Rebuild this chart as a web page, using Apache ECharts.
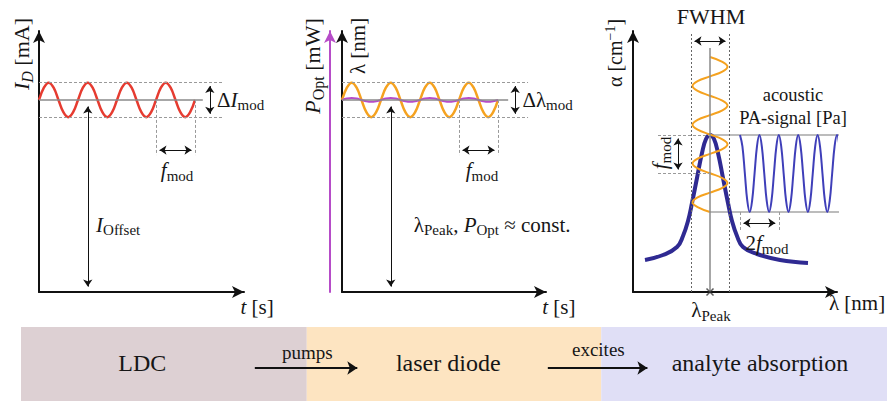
<!DOCTYPE html>
<html><head><meta charset="utf-8">
<script src="https://cdn.jsdelivr.net/npm/echarts/dist/echarts.min.js"></script>
<style>html,body{margin:0;padding:0;background:#fff}#c{width:887px;height:401px}</style>
</head><body><div id="c"></div>
<script>
// ---------------- data ----------------
// panels 1 & 2: time in modulation periods
const modPhase = [0,0.125,0.25,0.375,0.5,0.625,0.75,0.875,1,1.125,1.25,1.375,1.5,1.625,1.75,1.875,2,2.125,2.25,2.375,2.5,2.625,2.75,2.875,3,3.125,3.25,3.375,3.5,3.625,3.75,3.875,4];
// diode current I_D (arb. mA), offset 10, modulation ±0.9
const diodeCurrent = [10,10.64,10.9,10.64,10,9.36,9.1,9.36,10,10.64,10.9,10.64,10,9.36,9.1,9.36,10,10.64,10.9,10.64,10,9.36,9.1,9.36,10,10.64,10.9,10.64,10,9.36,9.1,9.36,10];
// emitted wavelength lambda (arb.)
const laserWavelength = [10,10.64,10.9,10.64,10,9.36,9.1,9.36,10,10.64,10.9,10.64,10,9.36,9.1,9.36,10,10.64,10.9,10.64,10,9.36,9.1,9.36,10,10.64,10.9,10.64,10,9.36,9.1,9.36,10];
// optical power P_Opt (arb.), nearly constant
const laserPower = [10,10.07,10.1,10.07,10,9.93,9.9,9.93,10,10.07,10.1,10.07,10,9.93,9.9,9.93,10,10.07,10.1,10.07,10,9.93,9.9,9.93,10,10.07,10.1,10.07,10,9.93,9.9,9.93,10];
const currentOffset = 10, currentHigh = 10.9, currentLow = 9.1;

// panel 3: absorption line (wavelength arb., alpha arb.)
const absorpLambda = [6,15,22,25,27.5,29.5,32,34.5,36.5,38.5,40.5,42.5,45,47.5,49.5,52,55,62,73.5,87.5];
const absorpAlpha  = [16,18.5,22.5,28,35.5,44.5,57,69.5,76.5,78.5,76.5,69.5,57,44.5,35.5,28,22.5,19,16,14.5];
const lambdaPeak = 38.5, fwhmLow = 29, fwhmHigh = 48;
// modulated laser wavelength drawn along the alpha axis
const probeLambda = [38.5,44.69,47.25,44.69,38.5,32.31,29.75,32.31,38.5,44.69,47.25,44.69,38.5,32.31,29.75,32.31,38.5,44.69,47.25,44.69,38.5,32.31,29.75,32.31,38.5,44.69,47.25,44.69,38.5,32.31,29.75,32.31,38.5];
const probeAlpha  = [117.5,115.08,112.66,110.23,107.81,105.39,102.97,100.55,98.13,95.7,93.28,90.86,88.44,86.02,83.59,81.17,78.75,76.33,73.91,71.48,69.06,66.64,64.22,61.8,59.38,56.95,54.53,52.11,49.69,47.27,44.84,42.42,40];
// acoustic PA signal
const paTime = [53.5,54.71,55.93,57.14,58.35,59.56,60.78,61.99,63.2,64.41,65.63,66.84,68.05,69.26,70.48,71.69,72.9,74.11,75.33,76.54,77.75,78.96,80.18,81.39,82.6,83.81,85.03,86.24,87.45,88.66,89.88,91.09,92.3,93.51,94.73,95.94,97.15,98.36,99.58,100.79,102,103.21,104.43];
const paSignal = [78.5,72.86,59.25,45.64,40,45.64,59.25,72.86,78.5,72.86,59.25,45.64,40,45.64,59.25,72.86,78.5,72.86,59.25,45.64,40,45.64,59.25,72.86,78.5,72.86,59.25,45.64,40,45.64,59.25,72.86,78.5,72.86,59.25,45.64,40,45.64,59.25,72.86,78.5,72.86,59.25];
const paHigh = 78.5, paLow = 40, paLineEnd = 108;

// process chain
const stages = ['LDC','laser diode','analyte absorption'];
const stageBounds = [0,0.99,2.01,3];
const actions = ['pumps','excites'];

// ---------------- styling ----------------
const SERIF = '"Liberation Serif","DejaVu Serif",serif';
const INK = '#161616';
const RED = '#e63b30', ORANGE = '#f5a21f', PURPLE = '#b64cc8', INDIGO = '#2f2a92', BLUE = '#3f3fb9';
const BAND = ['#ddd0d3','#fde4c1','#e0dff6'];
const DASH = {type:[3,2], color:'#9a9a9a', width:1};
const DOT = {type:[2,2], color:'#666', width:1};
const GRAY = {type:'solid', color:'#8a8a8a', width:1.5};
const ARR = {type:'solid', color:'#111', width:1};

const zip = (a,b)=>a.map((v,i)=>[v,b[i]]);
const seg = (p,q,st)=>[{coord:p, lineStyle:st, symbol:'none'},{coord:q, symbol:'none'}];
const dbl = (p,q)=>[{coord:p, lineStyle:ARR, symbol:'arrow'},{coord:q, symbol:'arrow'}];
const ml = data=>({silent:true, animation:false, symbolSize:7, label:{show:false}, emphasis:{disabled:true}, data});

function ax(extra){
  return Object.assign({type:'value', axisLine:{show:true, onZero:false, symbol:['none','arrow'], symbolSize:[9,12], lineStyle:{color:'#111', width:2}},
    axisTick:{show:false}, axisLabel:{show:false}, splitLine:{show:false}}, extra);
}
function hline(y, x0, x1){
  return {type:'line', xAxisIndex:2, yAxisIndex:3, data:[[x0,y],[x1,y]], symbol:'none', silent:true, z:1, clip:false,
          lineStyle:{color:'#7a7a7a', width:1.2}};
}

const chart = echarts.init(document.getElementById('c'), null, {renderer:'svg', width:887, height:401});

const option = {
  animation:false,
  grid:[
    {left:39, top:31, width:205, height:261, outerBoundsMode:'none'},
    {left:342, top:31, width:204, height:261, outerBoundsMode:'none'},
    {left:633, top:31, width:204, height:261, outerBoundsMode:'none'},
    {left:21, top:327, width:866, height:74, outerBoundsMode:'none'}
  ],
  xAxis:[
    ax({gridIndex:0, min:0, max:5.256}),
    ax({gridIndex:1, min:0, max:5.23}),
    ax({gridIndex:2, min:0, max:102}),
    {gridIndex:3, type:'value', min:0, max:3, show:false}
  ],
  yAxis:[
    ax({gridIndex:0, min:0, max:13.59}),
    ax({gridIndex:1, min:0, max:13.59}),
    ax({gridIndex:1, min:0, max:13.59, position:'left', offset:12,
        axisLine:{show:true, onZero:false, symbol:['none','arrow'], symbolSize:[9,12], lineStyle:{color:PURPLE, width:2}}}),
    ax({gridIndex:2, min:0, max:130.5}),
    {gridIndex:3, type:'value', min:0, max:1, show:false}
  ],
  series:[
    // ---- panel 1 ----
    {type:'line', xAxisIndex:0, yAxisIndex:0, data:[], silent:true, z:1, clip:false,
     markLine: ml([
       seg([0,currentHigh],[4.72,currentHigh],DASH),
       seg([0,currentLow],[4.72,currentLow],DASH),
       seg([0,currentOffset],[4.2,currentOffset],GRAY),
       dbl([4.38,9.28],[4.38,10.72]),
       seg([3,currentOffset],[3,7.13],DASH),
       seg([4,currentOffset],[4,7.13],DASH),
       dbl([3.09,7.39],[3.91,7.39]),
       dbl([1.25,0.28],[1.25,9.66])
     ])},
    {type:'line', xAxisIndex:0, yAxisIndex:0, data:zip(modPhase,diodeCurrent), smooth:0.4, symbol:'none', silent:true, z:3, clip:false,
     lineStyle:{color:RED, width:2.5}},
    // ---- panel 2 ----
    {type:'line', xAxisIndex:1, yAxisIndex:1, data:[], silent:true, z:1, clip:false,
     markLine: ml([
       seg([0,currentHigh],[4.77,currentHigh],DASH),
       seg([0,currentLow],[4.77,currentLow],DASH),
       seg([0,currentOffset],[4.26,currentOffset],GRAY),
       dbl([4.44,9.28],[4.44,10.72]),
       seg([3,currentOffset],[3,7.13],DASH),
       seg([4,currentOffset],[4,7.13],DASH),
       dbl([3.09,7.39],[3.91,7.39]),
       dbl([1.25,0.28],[1.25,9.66])
     ])},
    {type:'line', xAxisIndex:1, yAxisIndex:1, data:zip(modPhase,laserWavelength), smooth:0.4, symbol:'none', silent:true, z:3, clip:false,
     lineStyle:{color:ORANGE, width:2.5}},
    {type:'line', xAxisIndex:1, yAxisIndex:1, data:zip(modPhase,laserPower), smooth:0.4, symbol:'none', silent:true, z:4, clip:false,
     lineStyle:{color:PURPLE, width:2}},
    // ---- panel 3 ----
    {type:'line', xAxisIndex:2, yAxisIndex:3, data:[], silent:true, z:1, clip:false,
     markLine: ml([
       seg([fwhmLow,0],[fwhmLow,130],DOT),
       seg([fwhmHigh,0],[fwhmHigh,130],DOT),
       seg([lambdaPeak,0],[lambdaPeak,122],GRAY),
       dbl([30.75,125.5],[46.25,125.5]),
       seg([12.5,paHigh],[lambdaPeak,paHigh],DASH),
       seg([12.5,59.5],[lambdaPeak,59.5],DASH),
       dbl([22.5,61.25],[22.5,76.75]),
       seg([53.5,paLow],[53.5,30],DASH),
       seg([72.9,paLow],[72.9,30],DASH),
       dbl([55.25,34.5],[71.15,34.5])
     ])},
    hline(paHigh, lambdaPeak, paLineEnd),
    hline(paLow, lambdaPeak, paLineEnd),
    {type:'line', xAxisIndex:2, yAxisIndex:3, data:zip(absorpLambda,absorpAlpha), smooth:0.45, symbol:'none', silent:true, z:2, clip:false,
     lineStyle:{color:INDIGO, width:4}},
    {type:'line', xAxisIndex:2, yAxisIndex:3, data:zip(paTime,paSignal), smooth:0.4, symbol:'none', silent:true, z:3, clip:false,
     lineStyle:{color:BLUE, width:2}},
    {type:'line', xAxisIndex:2, yAxisIndex:3, data:zip(probeLambda,probeAlpha), smooth:0.4, symbol:'none', silent:true, z:4, clip:false,
     lineStyle:{color:ORANGE, width:2}},
    {type:'scatter', xAxisIndex:2, yAxisIndex:3, data:[[lambdaPeak,0]], symbol:'path://M0 0L10 10M10 0L0 10', symbolSize:7,
     itemStyle:{color:'none', borderColor:'#333', borderWidth:1.5}, silent:true, z:6, clip:false},
    // ---- process chain ----
    {type:'scatter', xAxisIndex:3, yAxisIndex:4, data:[], silent:true, z:1,
     markArea:{silent:true, data: stages.map((s,i)=>[{xAxis:stageBounds[i], itemStyle:{color:BAND[i], opacity:1}},{xAxis:stageBounds[i+1]}])},
     markLine:{silent:true, animation:false, label:{show:false}, symbolSize:10, data:[
       [{coord:[0.81,0.446], symbol:'none', lineStyle:{color:'#111', width:2, type:'solid'}},{coord:[1.165,0.446], symbol:'arrow'}],
       [{coord:[1.825,0.446], symbol:'none', lineStyle:{color:'#111', width:2, type:'solid'}},{coord:[2.17,0.446], symbol:'arrow'}]
     ]}}
  ]
};
chart.setOption(option);

// ---------------- annotation texts (anchored in data space) ----------------
function rich(F){
  const s = Math.round(F*0.72), d = Math.round(F*0.5);
  return {
    n:{fontSize:F, fontFamily:SERIF, color:INK},
    i:{fontSize:F, fontFamily:SERIF, fontStyle:'italic', color:INK},
    s:{fontSize:s, fontFamily:SERIF, color:INK, padding:[d,0,0,0]},
    si:{fontSize:s, fontFamily:SERIF, fontStyle:'italic', color:INK, padding:[d,0,0,0]},
    p:{fontSize:s, fontFamily:SERIF, color:INK, padding:[0,0,d,0]}
  };
}
const labels = [
  {g:0, at:[-0.436,12.39], rot:90, F:22, t:'{i|I}{si|D}{n| [mA]}'},
  {g:0, at:[5.17,10], F:21, t:'{n|Δ}{i|I}{s|mod}'},
  {g:0, at:[3.54,6.35], F:21, t:'{i|f}{s|mod}'},
  {g:0, at:[2.03,3.49], F:21, t:'{i|I}{s|Offset}'},
  {g:0, at:[5.59,-0.78], F:21, t:'{i|t}{n| [s]}'},
  {g:1, at:[-0.744,11.77], rot:90, F:22, t:'{i|P}{s|Opt}{n| [mW]}'},
  {g:1, at:[0.41,12.81], rot:90, F:21, t:'{n|λ [nm]}'},
  {g:1, at:[5.27,10], F:21, t:'{n|Δλ}{s|mod}'},
  {g:1, at:[3.59,6.35], F:21, t:'{i|f}{s|mod}'},
  {g:1, at:[3.85,3.49], F:21, t:'{n|λ}{s|Peak}{n|, }{i|P}{s|Opt}{n| ≈ const.}'},
  {g:1, at:[5.56,-0.78], F:21, t:'{i|t}{n| [s]}'},
  {g:2, at:[39,138], F:22, t:'{n|FWHM}'},
  {g:2, at:[-9,119.5], rot:90, F:20, t:'{n|α [cm}{p|−1}{n|]}'},
  {g:2, at:[80,98.5], F:18.5, t:'{n|acoustic}'},
  {g:2, at:[80,87], F:18.5, t:'{n|PA-signal [Pa]}'},
  {g:2, at:[13.5,69.5], rot:90, F:21, t:'{i|f}{s|mod}'},
  {g:2, at:[67,24.5], F:21, t:'{n|2}{i|f}{s|mod}'},
  {g:2, at:[39,-9], F:21, t:'{n|λ}{s|Peak}'},
  {g:2, at:[112,-5.5], F:21, t:'{n|λ [nm]}'},
  // process chain
  {g:3, at:[0.42,0.514], F:24, t:'{n|'+stages[0]+'}'},
  {g:3, at:[1.48,0.514], F:24, t:'{n|'+stages[1]+'}'},
  {g:3, at:[2.56,0.514], F:24, t:'{n|'+stages[2]+'}'},
  {g:3, at:[0.992,0.662], F:19, t:'{n|'+actions[0]+'}'},
  {g:3, at:[2.0,0.69], F:19, t:'{n|'+actions[1]+'}'}
];
const axisOf = [[0,0],[1,1],[2,3],[3,4]];
const graphic = labels.map(L=>{
  const p = chart.convertToPixel({xAxisIndex:axisOf[L.g][0], yAxisIndex:axisOf[L.g][1]}, L.at);
  return {type:'text', x:p[0], y:p[1], rotation:(L.rot||0)*Math.PI/180, silent:true, z:20,
    style:{text:L.t, rich:rich(L.F), fill:INK, font:L.F+'px '+SERIF, align:'center', verticalAlign:'middle'}};
});
chart.setOption({graphic});
</script>
</body></html>
